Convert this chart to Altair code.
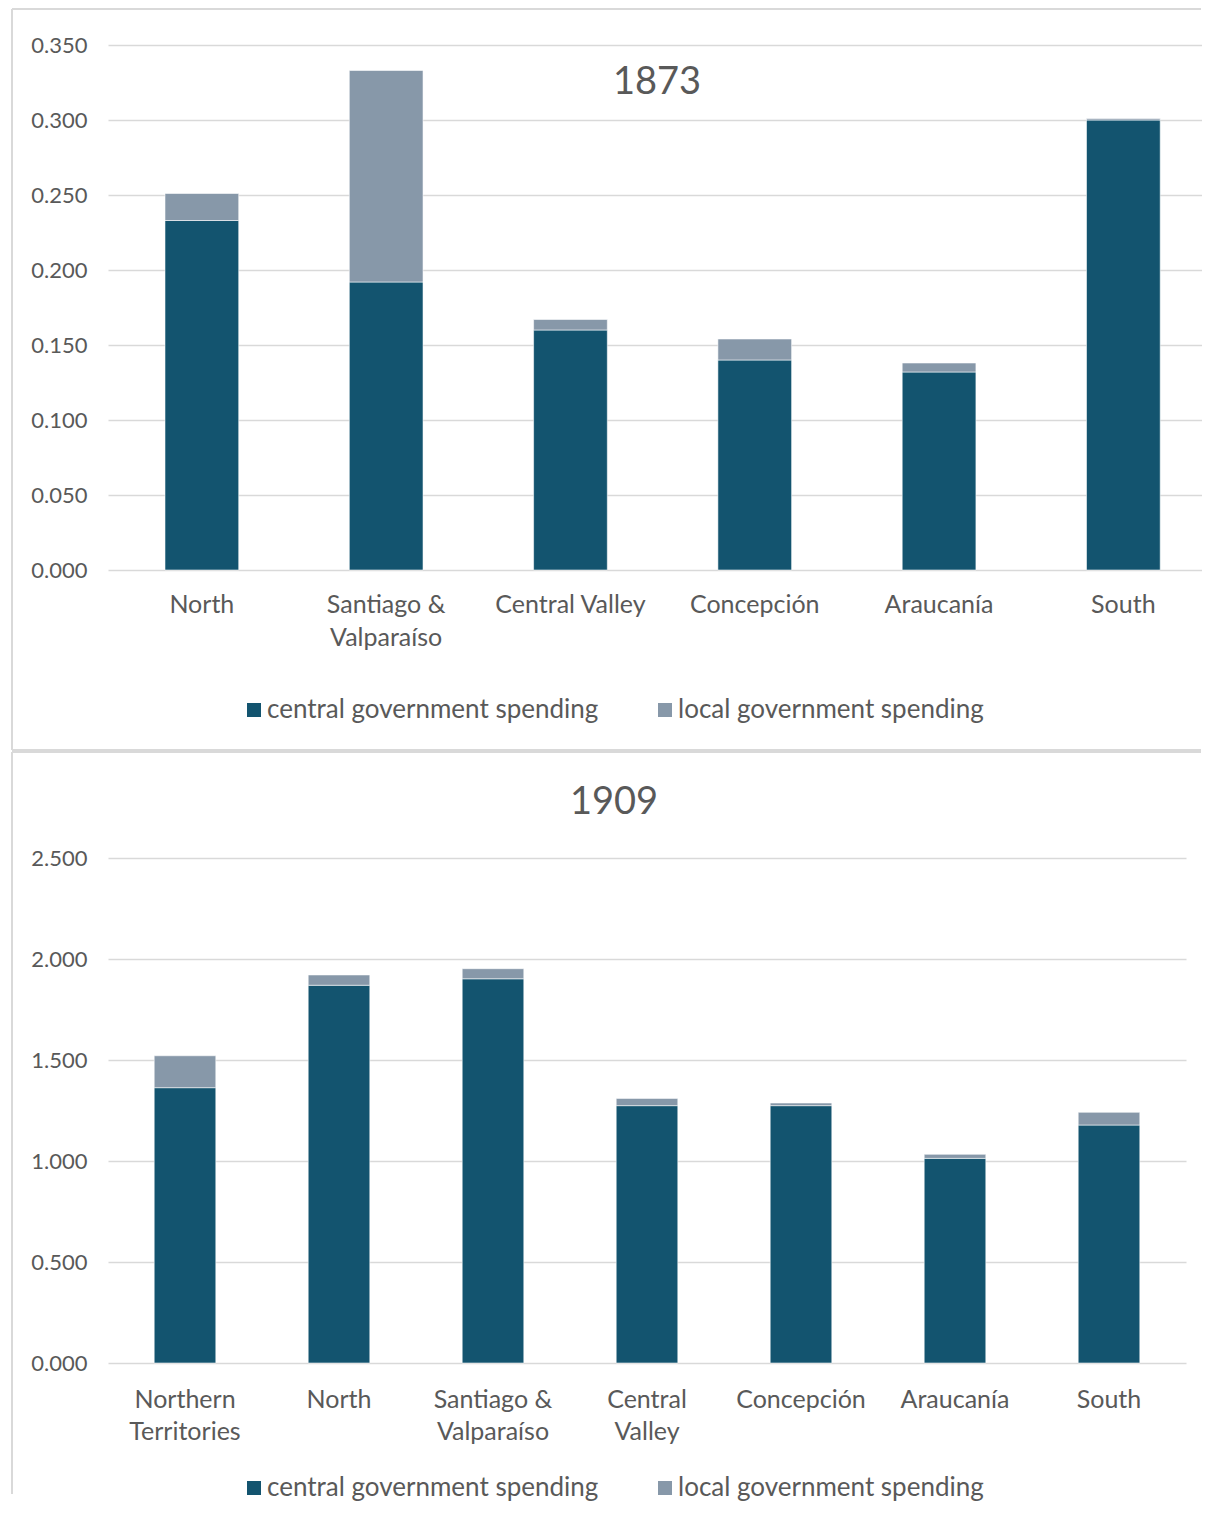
import altair as alt
import pandas as pd

# ---------------- data ----------------
series_names = ["central government spending", "local government spending"]
series_colors = ["#13546f", "#8798a9"]

cats_1873 = ["North", "Santiago & Valparaíso", "Central Valley", "Concepción", "Araucanía", "South"]
central_1873 = [0.233, 0.192, 0.160, 0.140, 0.132, 0.300]
local_1873 = [0.018, 0.141, 0.007, 0.014, 0.006, 0.001]
ticks_1873 = [0.0, 0.05, 0.10, 0.15, 0.20, 0.25, 0.30, 0.35]
lines_1873 = {"Santiago & Valparaíso": ["Santiago &", "Valparaíso"]}

cats_1909 = ["Northern Territories", "North", "Santiago & Valparaíso", "Central Valley",
             "Concepción", "Araucanía", "South"]
central_1909 = [1.363, 1.870, 1.902, 1.274, 1.274, 1.013, 1.178]
local_1909 = [0.158, 0.051, 0.050, 0.036, 0.013, 0.020, 0.063]
ticks_1909 = [0.0, 0.5, 1.0, 1.5, 2.0, 2.5]
lines_1909 = {
    "Northern Territories": ["Northern", "Territories"],
    "Santiago & Valparaíso": ["Santiago &", "Valparaíso"],
    "Central Valley": ["Central", "Valley"],
}

FONT = "Lato"
TEXT = "#595959"
GRID = "#d9d9d9"


def make_df(cats, central, local):
    rows = []
    for c, a, b in zip(cats, central, local):
        rows.append({"region": c, "series": series_names[0], "value": a, "ord": 0})
        rows.append({"region": c, "series": series_names[1], "value": b, "ord": 1})
    return pd.DataFrame(rows)


def label_expr(lines):
    expr = "datum.label"
    for name, parts in lines.items():
        arr = "[" + ",".join("'" + p + "'" for p in parts) + "]"
        expr = f"datum.label == '{name}' ? {arr} : ({expr})"
    return expr


def box(top, bottom, right, draw_bottom):
    one = alt.Chart(pd.DataFrame({"k": [0]}))
    style = dict(color=GRID, strokeWidth=2)
    parts = [
        one.mark_rule(**style).encode(x=alt.value(-96), x2=alt.value(right), y=alt.value(top)),
        one.mark_rule(**style).encode(x=alt.value(-96), y=alt.value(top), y2=alt.value(bottom)),
    ]
    if draw_bottom:
        parts.append(one.mark_rule(**style).encode(x=alt.value(-96), x2=alt.value(right), y=alt.value(bottom)))
    return parts


def panel(df, cats, lines, ticks, year, w, h, pad_outer, band_align, lab_pad, line_h,
          title_x, title_y, legend_y, box_top, box_bottom, box_right, draw_bottom):
    bars = alt.Chart(df).mark_bar(stroke="#ffffff", strokeWidth=0.8, strokeOpacity=0.7).encode(
        x=alt.X(
            "region:N",
            sort=cats,
            scale=alt.Scale(paddingInner=0.6, paddingOuter=pad_outer, align=band_align),
            axis=alt.Axis(
                title=None, labelAngle=0, labelExpr=label_expr(lines), labelFontSize=25,
                labelColor=TEXT, labelFont=FONT, labelPadding=lab_pad, labelLineHeight=line_h,
                ticks=False, domain=False, grid=False, labelLimit=300,
            ),
        ),
        y=alt.Y(
            "value:Q",
            stack="zero",
            scale=alt.Scale(domain=[ticks[0], ticks[-1]], nice=False),
            axis=alt.Axis(
                title=None, values=ticks, format=".3f", labelFontSize=22, labelColor=TEXT,
                labelFont=FONT, labelPadding=21, ticks=False, domain=False,
                grid=True, gridColor=GRID, gridWidth=1.6,
            ),
        ),
        color=alt.Color(
            "series:N",
            scale=alt.Scale(domain=series_names, range=series_colors),
            legend=alt.Legend(
                title=None, orient="none", legendX=133, legendY=legend_y, direction="horizontal",
                symbolType="square", symbolSize=196, symbolStrokeWidth=0, labelFontSize=26,
                labelColor=TEXT, labelFont=FONT, labelOffset=0, columnPadding=53, labelLimit=500,
            ),
        ),
        order=alt.Order("ord:Q", sort="ascending"),
    )
    title = alt.Chart(pd.DataFrame({"year": [year]})).mark_text(
        font=FONT, fontSize=38, color=TEXT, align="center", baseline="alphabetic"
    ).encode(text="year:N", x=alt.value(title_x), y=alt.value(title_y))
    layers = box(box_top, box_bottom, box_right, draw_bottom) + [bars, title]
    return alt.layer(*layers).properties(width=w, height=h)


top = panel(make_df(cats_1873, central_1873, local_1873), cats_1873, lines_1873, ticks_1873,
            "1873", 1094, 525, 0.268, 0.577, 22, 33, 549, 49, 652, -36, 705, 1093, True)
bottom = panel(make_df(cats_1909, central_1909, local_1909), cats_1909, lines_1909, ticks_1909,
               "1909", 1078, 505, 0.3, 0.5, 24, 32, 506, -44, 617, -106, 636, 1093, False)

chart = alt.vconcat(top, bottom, spacing=0).resolve_scale(color="independent").resolve_legend(
    color="independent"
).properties(
    padding={"left": 3, "top": 0, "right": 0, "bottom": 0}
).configure(font=FONT).configure_view(stroke=None)

chart.save("out.html", embed_options={"renderer": "svg", "actions": False})
